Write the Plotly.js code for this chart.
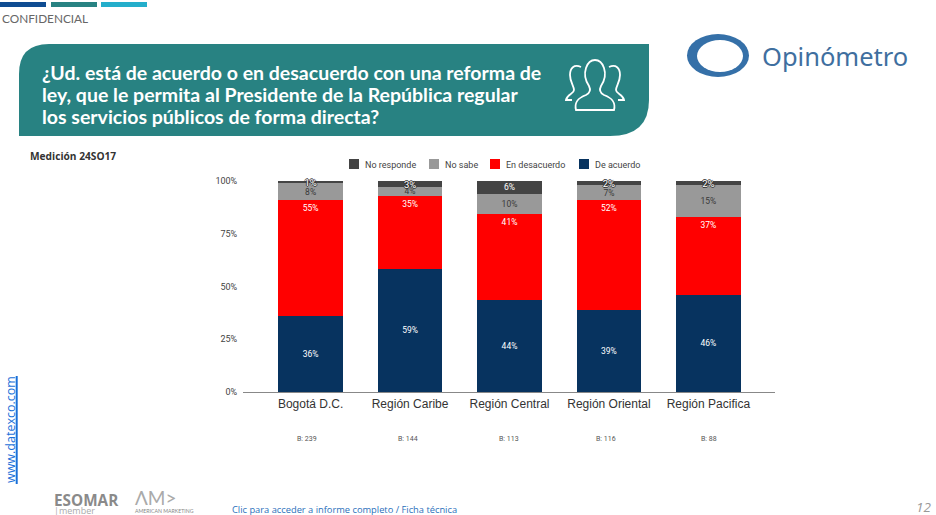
<!DOCTYPE html>
<html><head><meta charset="utf-8">
<script src="https://cdn.plot.ly/plotly-3.0.1.min.js"></script>
<style>html,body{margin:0;padding:0;background:#fff}#c{width:936px;height:515px}</style></head>
<body><div id="c"></div>
<script>
const categories=['Bogotá D.C.','Región Caribe','Región Central','Región Oriental','Región Pacifica'];
const deAcuerdo=[36,59,44,39,46];
const enDesacuerdo=[55,35,41,52,37];
const noSabe=[8,4,10,7,15];
const noResponde=[1,3,6,2,2];
const bases=['B: 239','B: 144','B: 113','B: 116','B: 88'];
const baseX=[307,408,509,606,709];
const yTicks=[0,25,50,75,100];
const titleLines=['¿Ud. está de acuerdo o en desacuerdo con una reforma de','ley, que le permita al Presidente de la República regular','los servicios públicos de forma directa?'];
const legendSwatchX=[349,429,490,579];
const W=936,H=515;
const px=x=>x/W, py=y=>1-y/H;
const pct=a=>a.map(v=>v+'%');
const halo='-1px 0 0.3px #333,1px 0 0.3px #333,0 -1px 0.3px #333,0 1px 0.3px #333';
function bar(name,vals,color,txt,anchor,shadow,size){
  return {type:'bar',name,x:categories,y:vals,width:0.65,marker:{color,line:{width:0}},
    text:pct(vals),textposition:'inside',insidetextanchor:anchor,textangle:0,constraintext:'none',cliponaxis:false,
    insidetextfont:{family:'Roboto,Arial,sans-serif',size:size||8.5,color:txt,shadow:shadow||'none'},hoverinfo:'skip'};
}
const traces=[
  bar('De acuerdo',deAcuerdo,'#07335f','#fff','middle'),
  bar('En desacuerdo',enDesacuerdo,'#ff0000','#fff','end'),
  bar('No sabe',noSabe,'#999999','#3a3a3a','middle'),
  bar('No responde',noResponde,'#444444','#fff','middle',noResponde.map(v=>v<5?halo:'none'),noResponde.map(v=>v<5?9.5:8.5))
];
function P(d,fill,line,w){return {type:'path',xref:'paper',yref:'paper',path:d,fillcolor:fill||'rgba(0,0,0,0)',line:{color:line||'rgba(0,0,0,0)',width:w||0},layer:'below'};}
function path(cmds){ // pixel path -> paper path
  return cmds.map(c=>c[0]+c.slice(1).map((v,i)=>i%2==0?px(v).toFixed(5):py(v).toFixed(5)).join(',')).join(' ');
}
function rect(x0,y0,x1,y1,c){return {type:'rect',xref:'paper',yref:'paper',x0:px(x0),x1:px(x1),y0:py(y0),y1:py(y1),fillcolor:c,line:{width:0},layer:'below'};}
function ell(cx,cy,rx,ry,c){return {type:'circle',xref:'paper',yref:'paper',x0:px(cx-rx),x1:px(cx+rx),y0:py(cy+ry),y1:py(cy-ry),fillcolor:c,line:{width:0},layer:'below'};}
function T(text,x,y,size,color,family,opts){return Object.assign({text,xref:'paper',yref:'paper',x:px(x-2),y:py(y),xanchor:'left',yanchor:'middle',showarrow:false,font:{size,color,family}},opts||{});}

const panel=P(path([['M',19,136],['L',19,74],['Q',19,44,49,44],['L',649,44],['L',649,100],['Q',649,136,610,136],['Z']]),'#288282');
const none='rgba(0,0,0,0)';
const mirror=c=>[c[0]].concat(c.slice(1).map((v,i)=>i%2==0?1190-v:v));
const sidePerson=[['M',581,67],['C',574,64,570,68,570,75],['C',570,82,574,86,574,90],['C',574,94,567,94,566,100],['L',572,100]];
const shapes=[
  rect(0,2,46,7,'#0f4c92'),rect(51,2,97,7,'#288282'),rect(101,2,147,7,'#24aecb'),
  panel,
  P(path([['M',576,110],['L',614,110],['C',616,102,612,98,604,95],['C',600,93,599,90,601,86],['C',605,80,606,74,604,68],['C',602,62,598,60,595,60],['C',592,60,588,62,586,68],['C',584,74,585,80,589,86],['C',591,90,590,93,586,95],['C',578,98,574,102,576,110],['Z']]),none,'#fff',1.8),
  P(path(sidePerson),none,'#fff',1.8),
  P(path(sidePerson.map(mirror)),none,'#fff',1.8),
  ell(718,55.5,31,21.5,'#3570a8'),ell(720,56,23,16,'#ffffff'),
  rect(15.7,376,17.7,484,'#1a6fd8')
];
const ann=[
  T('CONFIDENCIAL',2,18.5,11.8,'#666','Lato,sans-serif'),
  T('<b>Medición 24SO17</b>',30,156,10.2,'#333','"Open Sans",sans-serif'),
  T('Opinómetro',762,56,25.5,'#3f6f9f','"Noto Sans",sans-serif'),
  T('www.datexco.com',12,430,12.5,'#1a6fd8','"Open Sans",sans-serif',{textangle:-90,xanchor:'center',yanchor:'middle'}),
  T('<b>ESOMAR</b>',54,500,15.3,'#8a8a8a','"Open Sans",sans-serif'),
  T('|member',54,510.5,9,'#aaa','"Open Sans",sans-serif'),
  T('ΛM>',135,497,19,'#aaa','Lato,sans-serif'),
  T('AMERICAN MARKETING',135,511,5.2,'#888','Lato,sans-serif'),
  T('Clic para acceder a informe completo / Ficha técnica',232,509.5,9.3,'#2a6fbb','"Open Sans",sans-serif'),
  T('<i>12</i>',935,507,13.5,'#999','"Open Sans",sans-serif',{xanchor:'right'})
];
titleLines.forEach((t,i)=>ann.push(T('<b>'+t+'</b>',42,[73,94.5,116][i],19.5,'#fff','Lato,sans-serif')));
bases.forEach((b,i)=>ann.push({text:b,xref:'paper',yref:'paper',x:px(baseX[i]),y:py(439),xanchor:'center',yanchor:'middle',showarrow:false,font:{size:7,color:'#555',family:'Roboto,Arial,sans-serif'}}));

const layout={width:W,height:H,margin:{l:0,r:0,t:0,b:0},paper_bgcolor:'#fff',plot_bgcolor:'rgba(0,0,0,0)',
  barmode:'stack',barnorm:'percent',showlegend:true,
  legend:{orientation:'h',x:px(343),y:py(164),yanchor:'middle',xanchor:'left',traceorder:'reversed',font:{family:'Roboto,Arial,sans-serif',size:9,color:'#444'},itemclick:false,itemdoubleclick:false},
  xaxis:{domain:[px(243),px(775)],range:[-0.68,4.67],type:'category',showline:true,linecolor:'#888',linewidth:1,ticks:'',showgrid:false,zeroline:false,
    tickfont:{family:'"Liberation Sans",Arial,sans-serif',size:12,color:'#333'},ticklabelstandoff:1},
  yaxis:{domain:[py(392),py(181)],range:[0,100],tickvals:yTicks,ticktext:yTicks.map(v=>v+'%'),showgrid:false,zeroline:false,showline:false,ticks:'outside',ticklen:3,tickcolor:none,
    tickfont:{family:'Roboto,Arial,sans-serif',size:9,color:'#444'}},
  shapes,annotations:ann};
// Tighten the legend entries to the reference's compact spacing
function tightenLegend(gd){
  const lg=gd.querySelector('.legend'); if(!lg) return;
  const m=/translate\(([-\d.]+)/.exec(lg.getAttribute('transform')||''); const left=m?+m[1]:px(343)*W;
  lg.querySelectorAll('.traces').forEach((tr,i)=>{
    const y=(/,\s*([-\d.]+)\)/.exec(tr.getAttribute('transform')||'')||[0,0])[1];
    tr.setAttribute('transform','translate('+(legendSwatchX[i]-left)+','+y+')');
    const s=tr.querySelector('.legendpoints path, .legendbar');
    if(s){s.setAttribute('d','M5,5H-5V-5H5Z');s.setAttribute('transform','translate(5,0)');}
    const t=tr.querySelector('text.legendtext'); if(t) t.setAttribute('x',16);
  });
}
Plotly.newPlot('c',traces,layout,{displayModeBar:false}).then(gd=>{tightenLegend(gd);gd.on('plotly_afterplot',()=>tightenLegend(gd));});
</script></body></html>
